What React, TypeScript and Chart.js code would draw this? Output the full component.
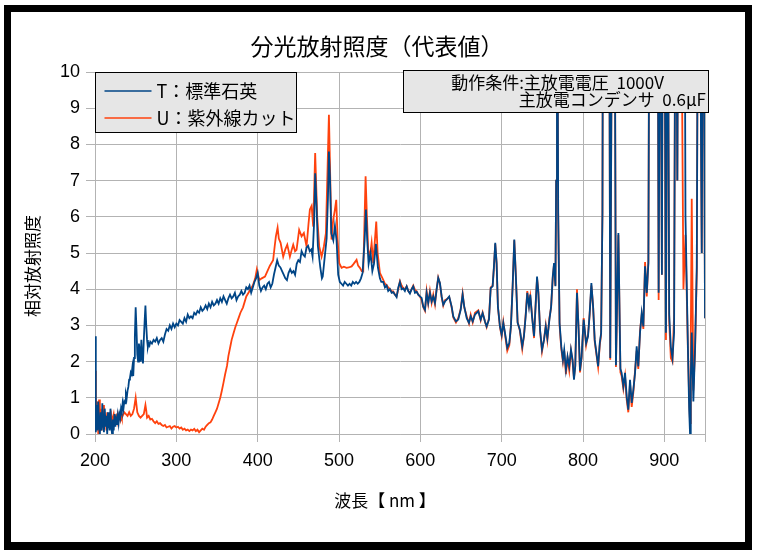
import React, { useEffect, useRef } from 'react';
import { Chart, registerables } from 'chart.js';

Chart.register(...registerables);

// ---- text ----
const TITLE = '分光放射照度（代表値）';
const X_TITLE = '波長【 nm 】';
const Y_TITLE = '相対放射照度';
const LABEL_T = 'T：標準石英';
const LABEL_U = 'U：紫外線カット';
const NOTE_LINE1 = '動作条件:主放電電圧  1000V';
const NOTE_LINE2 = '主放電コンデンサ  0.6μF';

// ---- axes ----
const X_MIN = 200;
const X_MAX = 950;
const X_TICKS = [200, 300, 400, 500, 600, 700, 800, 900, 950];
const X_LABELED = [200, 300, 400, 500, 600, 700, 800, 900];
const Y_MIN = 0;
const Y_MAX = 10;
const Y_STEP = 1;

const COLOR_T = '#004586';
const COLOR_U = '#ff420e';

// ---- series: [wavelength nm, relative irradiance] ----
const T_DATA: [number, number][] = [
  [200, 2.7], [201, 0.05], [202, 0.8], [203, 0.1], [204, 0.9], [205, 0.2], [206, 0], [207, 0.6], [208, 0.1], [209, 0.85],
  [210, 0.3], [211, 0.05], [212, 0.7], [213, 0.2], [214, 0.5], [215, 0], [216, 0.6], [217, 0.3], [218, 0.1], [219, 0.7],
  [220, 0.2], [221, 0], [222, 0.4], [223, 0.1], [224, 0.55], [225, 0.2], [226, 0.4], [227, 0.25], [228, 0.5], [229, 0.3],
  [230, 0.55], [231, 0.45], [232, 0.7], [233, 0.6], [234, 0.85], [235, 0.7], [236, 0.9], [237, 0.85], [238, 1.1], [239, 1.0],
  [240, 1.2], [241, 1.3], [242, 1.5], [243, 1.55], [244, 1.7], [245, 1.65], [246, 1.85], [247, 1.6], [248, 2.1], [249, 2.7],
  [250, 3.5], [251, 2.9], [252, 2.2], [253, 2.0], [254, 2.5], [255, 2.3], [256, 2.0], [257, 2.6], [258, 2.1], [259, 1.95],
  [260, 2.6], [261, 3.1], [262, 3.55], [263, 3.0], [264, 2.6], [265, 2.4], [266, 2.5], [267, 2.45], [268, 2.55], [270, 2.5],
  [272, 2.6], [274, 2.55], [276, 2.65], [278, 2.5], [280, 2.6], [282, 2.65], [284, 2.55], [286, 2.75], [288, 2.9], [290, 2.85],
  [292, 3.0], [294, 2.9], [296, 3.05], [298, 2.95], [300, 3.05], [302, 3.0], [304, 3.15], [306, 3.1], [308, 3.05], [310, 3.2],
  [312, 3.1], [314, 3.3], [316, 3.2], [318, 3.25], [320, 3.2], [322, 3.35], [324, 3.3], [326, 3.4], [328, 3.35], [330, 3.5],
  [332, 3.4], [334, 3.45], [336, 3.55], [338, 3.45], [340, 3.6], [342, 3.5], [344, 3.65], [346, 3.55], [348, 3.6], [350, 3.7],
  [352, 3.6], [354, 3.75], [356, 3.65], [358, 3.8], [360, 3.7], [362, 3.6], [364, 3.75], [366, 3.85], [368, 3.75], [370, 3.8],
  [372, 3.9], [374, 3.7], [376, 3.8], [378, 3.85], [380, 3.95], [382, 3.85], [384, 3.9], [386, 4.05], [388, 4.0], [390, 4.1],
  [392, 3.9], [394, 4.05], [396, 4.2], [398, 4.3], [400, 4.45], [402, 4.1], [404, 3.95], [406, 4.05], [408, 4.1], [410, 4.0],
  [412, 4.15], [414, 4.2], [416, 4.05], [418, 4.15], [420, 4.4], [422, 4.6], [424, 4.8], [426, 4.65], [428, 4.6], [430, 4.5],
  [432, 4.4], [434, 4.3], [436, 4.25], [438, 4.45], [440, 4.55], [442, 4.45], [444, 4.5], [446, 4.4], [448, 4.7], [450, 4.8],
  [452, 4.75], [454, 5.05], [456, 4.95], [458, 4.9], [460, 5.15], [462, 5.2], [464, 5.05], [466, 5.1], [467.5, 4.9], [469.5, 5.9],
  [470.7, 7.2], [472.4, 6.3], [474, 5.2], [475, 5.0], [477, 4.6], [479, 4.3], [480, 4.35], [482.5, 4.9], [484.8, 5.4], [486.4, 6.5],
  [487.6, 7.8], [488.9, 7.1], [490.5, 5.55], [493, 5.35], [495, 5.75], [497, 5.35], [499, 4.4], [501, 4.2], [503, 4.15], [505, 4.1],
  [507, 4.2], [509, 4.15], [511, 4.1], [513, 4.15], [515, 4.1], [517, 4.2], [519, 4.15], [521, 4.2], [523, 4.15], [525, 4.2],
  [527, 4.3], [529, 4.45], [531.5, 5.35], [533.1, 6.2], [534.7, 5.35], [536.4, 4.7], [538.8, 5.0], [541, 4.5], [543, 4.7], [545.4, 5.25],
  [547.8, 4.6], [550.3, 4.3], [552, 4.2], [554.4, 4.2], [556.5, 4.05], [558.5, 4.1], [560.5, 3.95], [562.6, 4.0], [564.7, 3.9], [566.7, 3.92],
  [568.8, 3.85], [570.8, 3.78], [572.9, 4.05], [574.9, 4.2], [577, 4.0], [579, 4.02], [581, 3.95], [583.2, 4.08], [585.2, 3.95], [587.2, 3.88],
  [589.3, 4.0], [591.3, 4.08], [593.4, 3.9], [595.5, 3.93], [597.5, 3.85], [599.5, 3.8], [601.6, 3.76], [603.6, 3.52], [605.7, 3.43], [607.7, 3.9],
  [609.7, 3.62], [611.8, 3.9], [613.9, 3.66], [615.9, 3.8], [618, 3.62], [620, 3.99], [622, 4.31], [624.1, 4.17], [626.2, 3.8], [628.2, 3.57],
  [630.3, 3.66], [632.3, 3.71], [635.5, 3.8], [638.5, 3.52], [640.5, 3.25], [643.8, 3.11], [646.6, 3.16], [649.6, 3.43], [652, 3.85], [654, 3.52],
  [657, 3.2], [659.8, 3.07], [661.9, 3.25], [664.4, 3.11], [667.2, 3.3], [671.3, 3.39], [674.2, 3.16], [676.6, 3.34], [679.5, 3.11], [681.5, 2.97],
  [684.4, 3.16], [686.5, 4.03], [688.9, 4.08], [690.5, 4.63], [692.1, 5.28], [693.8, 4.72], [695.4, 3.52], [697.9, 2.97], [700, 2.74], [702, 3.07],
  [704.1, 2.79], [706.9, 2.38], [709.4, 2.51], [711.4, 2.97], [713.5, 4.08], [715.5, 5.37], [717.6, 4.26], [719.6, 3.07], [722.4, 2.88], [725.3, 2.42],
  [727.4, 2.7], [729.5, 3.25], [731.5, 3.9], [733.6, 3.52], [735.2, 3.85], [737.3, 3.25], [739.8, 2.7], [741.9, 3.62], [743.5, 4.35], [745.1, 3.9],
  [747.2, 2.88], [749.6, 2.33], [752.1, 2.6], [754.2, 2.97], [756.2, 2.65], [758.7, 3.16], [760.8, 3.52], [762.8, 4.35], [764.4, 4.72], [766.1, 4.08],
  [767, 7.0], [768, 16], [769.5, 6.1], [771.2, 3.07], [773.3, 2.42], [775.3, 2.05], [776.9, 2.33], [779, 1.78], [781, 2.14], [783.1, 1.87],
  [785.2, 2.33], [787.2, 2.05], [788.9, 1.5], [790.5, 1.87], [792.6, 3.9], [794.6, 2.88], [796.3, 1.75], [798.3, 2.14], [800.8, 3.16], [803.8, 2.51],
  [806.2, 2.7], [808.2, 3.34], [810.3, 4.17], [812.4, 3.52], [814.4, 2.6], [816.5, 2.24], [818.6, 1.87], [820.6, 2.51], [822.3, 2.79], [823.9, 6.1],
  [825.2, 20], [827, 14], [829, 18], [831, 24], [833.5, 2.1], [835.5, 12], [838, 20], [840.5, 1.9], [843.5, 5.55], [846, 1.8],
  [847.5, 1.69], [849.6, 1.32], [851.7, 1.69], [853.7, 1.04], [855.7, 0.67], [857.8, 1.5], [859.9, 0.86], [861.9, 1.22], [864, 1.69], [866, 2.42],
  [868, 1.87], [870.1, 2.79], [872.2, 3.34], [874.2, 2.97], [876.3, 4.63], [878.4, 3.9], [880.4, 4.72], [882.5, 20], [884.5, 9], [886.5, 22],
  [889, 15], [891, 20], [893, 3.9], [895, 15], [897, 4.4], [899, 20], [902, 2.8], [904, 15], [906, 3.3], [908, 2.4],
  [910, 2.1], [912, 2.8], [914, 16], [916, 7], [918, 20], [921, 12], [924, 20], [926, 6], [927.5, 4.2], [929, 2.4],
  [930.5, 0.7], [931.6, 0], [932.5, 1.5], [933.7, 2.8], [935.7, 0.9], [937.8, 2.4], [939.9, 4.6], [942, 18], [944, 12], [946, 5.0],
  [948, 16], [950, 3.2],
];

const U_DATA: [number, number][] = [
  [200, 1.75], [201, 1.0], [202, 0.2], [203, 0.9], [204, 0], [205, 0.95], [206, 0.3], [207, 0.7], [208, 0.1], [209, 0.5],
  [210, 0.2], [211, 0.8], [212, 0.3], [213, 0.5], [214, 0.1], [215, 0.6], [216, 0.45], [217, 0.2], [218, 0.55], [219, 0.35],
  [220, 0.5], [221, 0.3], [222, 0.45], [223, 0.55], [224, 0.35], [225, 0.45], [226, 0.5], [227, 0.4], [228, 0.55], [229, 0.45],
  [230, 0.5], [231, 0.4], [232, 0.55], [233, 0.45], [234, 0.5], [236, 0.6], [238, 0.55], [240, 0.5], [242, 0.6], [244, 0.5],
  [246, 0.55], [248, 0.7], [250, 1.0], [251, 0.8], [252, 0.6], [254, 0.5], [256, 0.45], [258, 0.5], [260, 0.55], [262, 0.8],
  [263, 0.65], [264, 0.45], [266, 0.5], [268, 0.4], [270, 0.42], [272, 0.35], [274, 0.3], [276, 0.35], [278, 0.28], [280, 0.3],
  [282, 0.25], [284, 0.22], [286, 0.25], [288, 0.18], [290, 0.2], [292, 0.22], [294, 0.15], [296, 0.2], [298, 0.22], [300, 0.18],
  [302, 0.2], [304, 0.15], [306, 0.18], [308, 0.12], [310, 0.15], [312, 0.1], [314, 0.12], [316, 0.08], [318, 0.12], [320, 0.1],
  [322, 0.14], [324, 0.08], [326, 0.12], [328, 0.05], [330, 0.1], [332, 0.15], [334, 0.12], [336, 0.2], [338, 0.25], [340, 0.3],
  [342, 0.32], [344, 0.4], [346, 0.5], [348, 0.6], [350, 0.7], [352, 0.85], [354, 1.0], [356, 1.2], [358, 1.42], [360, 1.65],
  [362.3, 1.88], [364, 2.15], [366.5, 2.43], [368, 2.6], [370.5, 2.8], [372.5, 2.95], [374.6, 3.08], [376.5, 3.2], [378.8, 3.35], [382, 3.5],
  [386, 3.8], [390, 3.95], [394, 4.1], [397, 4.3], [399, 4.55], [402, 4.25], [405, 4.3], [409, 4.35], [412, 4.5], [415, 4.65],
  [419, 4.8], [421, 5.2], [422.4, 5.46], [424.5, 5.7], [426, 5.4], [428.2, 5.28], [431.4, 4.9], [434, 5.1], [436.4, 5.23], [439.6, 4.9],
  [442, 5.1], [443.7, 5.23], [446, 5.05], [447.8, 5.09], [451, 5.64], [454, 5.46], [456.8, 5.55], [460.1, 5.18], [462.5, 5.8], [464.2, 6.2],
  [466.3, 6.3], [468.3, 5.73], [470.7, 7.76], [473.2, 6.01], [475.7, 5.18], [478.6, 4.9], [481.4, 5.18], [483.9, 5.55], [486, 7.39], [487.6, 8.82],
  [489.2, 7.12], [490.8, 5.37], [492.9, 5.92], [495, 6.2], [496.6, 6.47], [498.3, 5.37], [500.3, 4.72], [503.2, 4.59], [506, 4.62], [509.3, 4.59],
  [512, 4.6], [515.5, 4.63], [518, 4.7], [521.6, 4.81], [523.5, 4.65], [525.7, 4.59], [528, 4.5], [529.8, 4.49], [531, 5.55], [532.7, 7.12],
  [534.3, 6.01], [535.9, 5.09], [538, 4.9], [540.1, 5.28], [542.1, 4.72], [544.2, 5.37], [545.8, 5.87], [547.5, 5.0], [550.3, 4.45], [552.5, 4.35],
  [554.4, 4.26], [556.5, 4.15], [558.5, 4.12], [560.5, 4.05], [562.6, 4.0], [564.7, 3.95], [566.7, 3.94], [568.8, 3.85], [570.8, 3.8], [572.9, 4.0],
  [574.9, 4.22], [577, 4.1], [579, 4.03], [581, 4.0], [583.2, 4.08], [585.2, 3.95], [587.2, 3.9], [589.3, 4.0], [591.3, 4.1], [593.4, 3.98],
  [595.5, 3.94], [597.5, 3.85], [599.5, 3.8], [601.6, 3.7], [603.6, 3.5], [605.7, 3.4], [607.7, 3.95], [609.7, 3.6], [611.8, 3.95], [613.9, 3.62],
  [615.9, 3.85], [618, 3.58], [620, 4.0], [622, 4.32], [624.1, 4.15], [626.2, 3.78], [628.2, 3.55], [630.3, 3.7], [632.3, 3.72], [635.5, 3.78],
  [638.5, 3.5], [640.5, 3.22], [643.8, 3.08], [646.6, 3.2], [649.6, 3.45], [652, 3.88], [654, 3.5], [657, 3.25], [659.8, 3.05], [661.9, 3.3],
  [664.4, 3.08], [667.2, 3.35], [671.3, 3.42], [674.2, 3.14], [676.6, 3.36], [679.5, 3.1], [681.5, 2.95], [684.4, 3.2], [686.5, 4.05], [688.9, 4.1],
  [690.5, 4.6], [692.1, 5.25], [693.8, 4.7], [695.4, 3.5], [697.9, 2.95], [700, 2.7], [702, 3.1], [704.1, 2.75], [706.9, 2.3], [709.4, 2.45],
  [711.4, 3.0], [713.5, 4.1], [715.5, 5.35], [717.6, 4.3], [719.6, 3.1], [722.4, 2.85], [725.3, 2.35], [727.4, 2.72], [729.5, 3.3], [731.5, 3.95],
  [733.6, 3.55], [735.2, 3.8], [737.3, 3.3], [739.8, 2.65], [741.9, 3.65], [743.5, 4.3], [745.1, 3.95], [747.2, 2.85], [749.6, 2.28], [752.1, 2.62],
  [754.2, 3.0], [756.2, 2.6], [758.7, 3.2], [760.8, 3.5], [762.8, 4.3], [764.4, 4.7], [766.1, 4.1], [767, 7.0], [768, 16], [769.5, 6.1],
  [771.2, 3.0], [773.3, 2.35], [775.3, 2.0], [776.9, 2.3], [779, 1.65], [781, 2.1], [783.1, 1.75], [785.2, 2.3], [787.2, 2.0], [788.9, 1.55],
  [790.5, 1.9], [792.6, 4.0], [794.6, 2.9], [796.3, 1.7], [798.3, 2.1], [800.8, 3.2], [803.8, 2.45], [806.2, 2.75], [808.2, 3.3], [810.3, 4.1],
  [812.4, 3.55], [814.4, 2.55], [816.5, 2.2], [818.6, 1.85], [820.6, 2.45], [822.3, 2.75], [823.9, 6.1], [825.2, 20], [827, 14], [829, 18],
  [831, 24], [833.5, 2.05], [835.5, 12], [838, 20], [840.5, 1.85], [843.5, 5.5], [846, 1.7], [847.5, 1.6], [849.6, 1.25], [851.7, 1.6],
  [853.7, 0.95], [855.7, 0.6], [857.8, 1.4], [859.9, 0.75], [861.9, 1.15], [864, 1.75], [866, 2.3], [868, 1.8], [870.1, 2.85], [872.2, 3.3],
  [874.2, 2.9], [876.3, 4.75], [878.4, 3.8], [880.4, 4.8], [882.5, 20], [884.5, 9], [886.5, 22], [889, 15], [891, 20], [893, 3.7],
  [895, 15], [897, 4.4], [899, 20], [902, 2.6], [904, 15], [906, 3.1], [908, 2.1], [910, 2.0], [912, 3.3], [914, 16],
  [916, 7], [918, 20], [921, 12], [923.5, 4.0], [926, 5.5], [927.5, 3.9], [929, 2.3], [930.5, 1.0], [931.6, 0.3], [932.5, 2.5],
  [933.7, 6.5], [935.7, 1.2], [937.8, 2.3], [939.9, 4.5], [942, 18], [944, 12], [946, 5.0], [948, 16], [950, 3.2],
];

const JP_FONT = '"Noto Sans CJK JP", "Noto Sans", sans-serif';
const NUM_FONT = '"Liberation Sans", Arial, sans-serif';

const overlayPlugin = {
  id: 'overlayTexts',
  afterDraw(chart: any) {
    const { ctx, chartArea } = chart;
    const a = chartArea;
    ctx.save();
    ctx.fillStyle = '#000';
    ctx.textBaseline = 'middle';

    // title
    ctx.textAlign = 'center';
    ctx.font = `23px ${JP_FONT}`;
    ctx.fillText(TITLE, 377, 46);

    // x axis title
    ctx.font = `17px ${JP_FONT}`;
    ctx.fillText(X_TITLE, 385, 501);

    // y axis title
    ctx.save();
    ctx.translate(33, 266);
    ctx.rotate(-Math.PI / 2);
    ctx.fillText(Y_TITLE, 0, 0);
    ctx.restore();

    // legend box
    const lx = a.left + 0.5;
    const ly = a.top + 0.5;
    ctx.fillStyle = '#e6e6e6';
    ctx.fillRect(lx, ly, 201, 60);
    ctx.strokeStyle = '#000';
    ctx.lineWidth = 1;
    ctx.strokeRect(lx, ly, 201, 60);
    const ds = chart.data.datasets;
    const rows = [ly + 18.5, ly + 45.5];
    ds.forEach((d: any, i: number) => {
      const y = rows[i];
      ctx.strokeStyle = d.borderColor;
      ctx.lineWidth = 1.5;
      ctx.beginPath();
      ctx.moveTo(lx + 9, y);
      ctx.lineTo(lx + 56, y);
      ctx.stroke();
      ctx.fillStyle = '#000';
      ctx.textAlign = 'left';
      ctx.font = `18px ${JP_FONT}`;
      ctx.fillText(d.label, lx + 61, y);
    });

    // note box
    const nx = 403.5;
    const ny = 70.5;
    ctx.fillStyle = '#e6e6e6';
    ctx.fillRect(nx, ny, 305, 42);
    ctx.strokeStyle = '#000';
    ctx.lineWidth = 1;
    ctx.strokeRect(nx, ny, 305, 42);
    ctx.fillStyle = '#000';
    ctx.font = `17px ${JP_FONT}`;
    ctx.textAlign = 'right';
    ctx.fillText(NOTE_LINE1, 664, 83);
    ctx.fillText(NOTE_LINE2, 706, 100);

    ctx.restore();
  },
};

export default function App() {
  const ref = useRef<HTMLCanvasElement | null>(null);

  useEffect(() => {
    if (!ref.current) return;
    const chart = new Chart(ref.current, {
      type: 'line',
      data: {
        datasets: [
          {
            label: LABEL_T,
            data: T_DATA.map(([x, y]) => ({ x, y })),
            borderColor: COLOR_T,
            backgroundColor: COLOR_T,
            borderWidth: 1.8,
            pointRadius: 0,
            tension: 0,
          },
          {
            label: LABEL_U,
            data: U_DATA.map(([x, y]) => ({ x, y })),
            borderColor: COLOR_U,
            backgroundColor: COLOR_U,
            borderWidth: 1.8,
            pointRadius: 0,
            tension: 0,
          },
        ],
      },
      options: {
        animation: false,
        responsive: false,
        devicePixelRatio: 1,
        layout: { padding: { left: 12, right: 52, top: 72, bottom: 12 } },
        plugins: {
          legend: { display: false },
          title: { display: false },
          tooltip: { enabled: false },
        },
        scales: {
          x: {
            type: 'linear',
            min: X_MIN,
            max: X_MAX,
            afterBuildTicks: (s: any) => {
              s.ticks = X_TICKS.map((value) => ({ value }));
            },
            ticks: {
              autoSkip: false,
              maxRotation: 0,
              padding: 8,
              color: '#000',
              font: { family: NUM_FONT, size: 18 },
              callback: (v: any) => (X_LABELED.includes(Number(v)) ? String(v) : ''),
            },
            grid: { color: '#b3b3b3', lineWidth: 1, tickLength: 8 },
            border: { color: '#b3b3b3' },
            afterFit: (s: any) => {
              s.height = 108;
            },
          },
          y: {
            min: Y_MIN,
            max: Y_MAX,
            ticks: {
              stepSize: Y_STEP,
              padding: 6,
              color: '#000',
              font: { family: NUM_FONT, size: 18 },
            },
            grid: { color: '#b3b3b3', lineWidth: 1, tickLength: 9 },
            border: { color: '#b3b3b3' },
            afterFit: (s: any) => {
              s.width = 83;
            },
          },
        },
      } as any,
      plugins: [overlayPlugin],
    });
    return () => chart.destroy();
  }, []);

  return (
    <div style={{ position: 'absolute', left: 0, top: 0, width: 757, height: 554, background: '#fff' }}>
      <div
        style={{
          position: 'absolute',
          left: 4,
          top: 5,
          width: 748,
          height: 545,
          boxSizing: 'border-box',
          borderStyle: 'solid',
          borderColor: '#000',
          borderWidth: '7px 7px 8px 7px',
        }}
      />
      <canvas ref={ref} width={757} height={554} style={{ position: 'absolute', left: 0, top: 0 }} />
    </div>
  );
}
